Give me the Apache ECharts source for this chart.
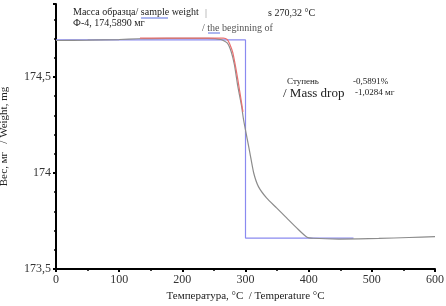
<!DOCTYPE html>
<html>
<head>
<meta charset="utf-8">
<script src="https://cdn.jsdelivr.net/npm/echarts@6/dist/echarts.min.js"></script>
<style>
html, body { margin: 0; padding: 0; background: #fff; }
#main { width: 446px; height: 306px; }
</style>
</head>
<body>
<div id="main"></div>
<script>
// TGA curve: temperature (C) vs weight (mg)
var curveT = [0, 50, 100, 130, 150, 200, 240, 261, 271, 277.5, 282.5, 287.5, 293.5, 297, 303, 307, 313, 320.5, 333.3, 349.2, 365.1, 381, 396.8, 407.5, 448, 511, 559, 600];
var curveW = [174.690, 174.692, 174.695, 174.699, 174.700, 174.701, 174.701, 174.695, 174.677, 174.630, 174.5625, 174.458, 174.354, 174.276, 174.172, 174.104, 174.0, 173.929, 173.870, 173.818, 173.766, 173.714, 173.667, 173.660, 173.656, 173.659, 173.664, 173.669];
// tangent (onset) line
var tangT = [133, 265, 271, 275, 280, 288, 296];
var tangW = [174.702, 174.702, 174.695, 174.672, 174.625, 174.484, 174.318];
// step marker
var stepT = [0, 300, 300, 471];
var stepW = [174.693, 174.693, 173.661, 173.661];

function pairs(xs, ys) {
	return xs.map(function (x, i) { return [x, ys[i]]; });
}

var serif = '"Liberation Serif", "DejaVu Serif", serif';
var myChart = echarts.init(document.getElementById('main'));
var option = {
	backgroundColor: '#fff',
	animation: false,
	grid: { left: 56, right: 11, top: 4, bottom: 37, outerBoundsMode: 'none' },
	xAxis: {
		type: 'value',
		min: 0,
		max: 600,
		interval: 100,
		name: 'Температура, °С  / Temperature °C',
		nameLocation: 'middle',
		nameGap: 22,
		nameTextStyle: { fontFamily: serif, fontSize: 11, color: '#222' },
		axisLine: { lineStyle: { color: '#000', width: 2 } },
		axisTick: { length: 3, lineStyle: { color: '#000', width: 2 } },
		minorTick: { show: true, splitNumber: 2, length: 2, lineStyle: { color: '#000', width: 1.5 } },
		splitLine: { show: false },
		axisLabel: { fontFamily: serif, fontSize: 12, color: '#333', margin: 5 }
	},
	yAxis: {
		type: 'value',
		min: 173.5,
		max: 174.88,
		interval: 0.5,
		name: 'Вес, мг   / Weight, mg',
		nameLocation: 'middle',
		nameGap: 46,
		nameTextStyle: { fontFamily: serif, fontSize: 11, color: '#222' },
		axisLine: { show: true, lineStyle: { color: '#000', width: 2 } },
		axisTick: { show: true, length: 3, lineStyle: { color: '#000', width: 2 } },
		minorTick: { show: true, splitNumber: 5, length: 2, lineStyle: { color: '#000', width: 1.5 } },
		splitLine: { show: false },
		axisLabel: {
			fontFamily: serif, fontSize: 12, color: '#333', margin: 5,
			showMaxLabel: false,
			formatter: function (v) { return String(+v.toFixed(1)).replace('.', ','); }
		}
	},
	series: [
		{
			name: 'step',
			type: 'line',
			showSymbol: false,
			lineStyle: { color: '#8a8af0', width: 1.2 },
			data: pairs(stepT, stepW)
		},
		{
			name: 'curve',
			type: 'line',
			showSymbol: false,
			smooth: 0.2,
			lineStyle: { color: '#8c8c8c', width: 1.2 },
			data: pairs(curveT, curveW)
		},
		{
			name: 'tangent',
			type: 'line',
			showSymbol: false,
			smooth: 0.2,
			lineStyle: { color: '#e87070', width: 1.2 },
			data: pairs(tangT, tangW)
		}
	],
	graphic: [
		{ type: 'text', left: 73, top: 7, style: { text: 'Масса образца/ sample weight', font: '10px ' + serif, fill: '#222' } },
		{ type: 'line', shape: { x1: 141, y1: 18, x2: 168, y2: 18 }, style: { stroke: '#5a6ee0', lineWidth: 1 } },
		{ type: 'text', left: 73, top: 18, style: { text: 'Ф-4, 174,5890 мг', font: '10px ' + serif, fill: '#222' } },
		{ type: 'text', left: 205, top: 8, style: { text: '|', font: '10px ' + serif, fill: '#888' } },
		{ type: 'text', left: 268, top: 8, style: { text: 's 270,32 °C', font: '10px ' + serif, fill: '#222' } },
		{ type: 'text', left: 202, top: 23, style: { text: '/ the beginning of', font: '10px ' + serif, fill: '#555' } },
		{ type: 'line', shape: { x1: 208, y1: 33, x2: 220, y2: 33 }, style: { stroke: '#5a6ee0', lineWidth: 1 } },
		{ type: 'text', left: 287, top: 77, style: { text: 'Ступень', font: '9px ' + serif, fill: '#222' } },
		{ type: 'text', left: 353, top: 77, style: { text: '-0,5891%', font: '9px ' + serif, fill: '#222' } },
		{ type: 'text', left: 283, top: 87, style: { text: '/ Mass drop', font: '13px ' + serif, fill: '#222' } },
		{ type: 'text', left: 355, top: 88, style: { text: '-1,0284 мг', font: '9px ' + serif, fill: '#222' } }
	]
};
myChart.setOption(option);
</script>
</body>
</html>
